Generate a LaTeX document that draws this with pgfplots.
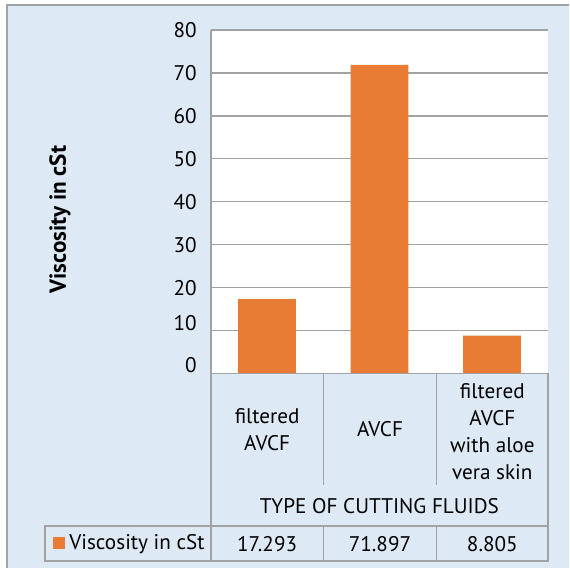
\documentclass[border=0pt]{standalone}
\usepackage{pgfplots}
\pgfplotsset{compat=1.18}
\usepackage{fontspec}
\setmainfont{PT Sans}
\definecolor{bgblue}{RGB}{221,234,245}
\definecolor{barorange}{RGB}{233,124,53}
\definecolor{gridgray}{RGB}{162,162,162}

\begin{document}
\begin{tikzpicture}[font=\fontsize{10.6}{13.5}\selectfont]
% background, measured in pixels of the reference (1px = 0.5pt)
\begin{scope}[x=0.5pt,y=-0.5pt]
  \path[fill=white] (0,0) rectangle (570,569);
  \fill[bgblue] (7,5) rectangle (570,569);
  \draw[gridgray, line width=0.8pt] (7,569) -- (7,5) -- (570,5);
  \fill[white] (211,30) rectangle (549,374);
\end{scope}

\begin{axis}[
  at={(105.5pt,-15pt)}, anchor=north west,
  scale only axis, width=169pt, height=172pt,
  xmin=-0.5, xmax=2.5, ymin=0, ymax=80,
  ytick={0,10,...,80}, xtick=\empty,
  ymajorgrids, grid style={gridgray, line width=0.7pt},
  axis line style={draw=none},
  major tick length=0pt,
  tick label style={font=\fontsize{10.6}{12}\selectfont},
  yticklabel style={xshift=-3.5pt},
  yticklabel={\ifnum\ticknum=0 \raisebox{4pt}[\height][\depth]{0}\else
    \ifnum\ticknum=1 \raisebox{3.5pt}[\height][\depth]{10}\else
    \pgfmathprintnumber{\tick}\fi\fi},
  /pgf/number format/assume math mode=true,
  ybar, bar width=29pt,
  clip=false,
]
\addplot[fill=barorange, draw=none] coordinates {(0,17.293) (1,71.897) (2,8.805)};
\end{axis}

% data table below the axis
\begin{scope}[x=0.5pt,y=-0.5pt]
  \draw[gridgray, line width=0.8pt] (211,30) -- (211,562);
  \draw[gridgray, line width=0.8pt] (549,374) -- (549,562);
  \draw[gridgray, line width=0.8pt] (211,374) -- (549,374);
  \draw[gridgray, line width=0.8pt] (324,374) -- (324,486);
  \draw[gridgray, line width=0.8pt] (437,374) -- (437,486);
  \draw[gridgray, line width=0.8pt] (45,527) rectangle (549,562);
  \draw[gridgray, line width=0.8pt] (324,527) -- (324,562);
  \draw[gridgray, line width=0.8pt] (437,527) -- (437,562);

  \node[align=center] at (267.5,430) {filtered\\AVCF};
  \node[align=center] at (380.5,430) {AVCF};
  \node[align=center] at (493,432) {filtered\\AVCF\\with aloe\\vera skin};
  \node at (380,507) {TYPE OF CUTTING FLUIDS};

  \fill[barorange] (53,538) rectangle (65,550);
  \node[anchor=west, inner sep=0pt] at (69,545) {Viscosity in cSt};
  \node at (267.5,545) {17.293};
  \node at (380.5,545) {71.897};
  \node at (493,545) {8.805};

  \node[rotate=90, font=\fontsize{11.6}{13}\selectfont\bfseries] at (60,220) {Viscosity in cSt};
\end{scope}
\end{tikzpicture}
\end{document}
